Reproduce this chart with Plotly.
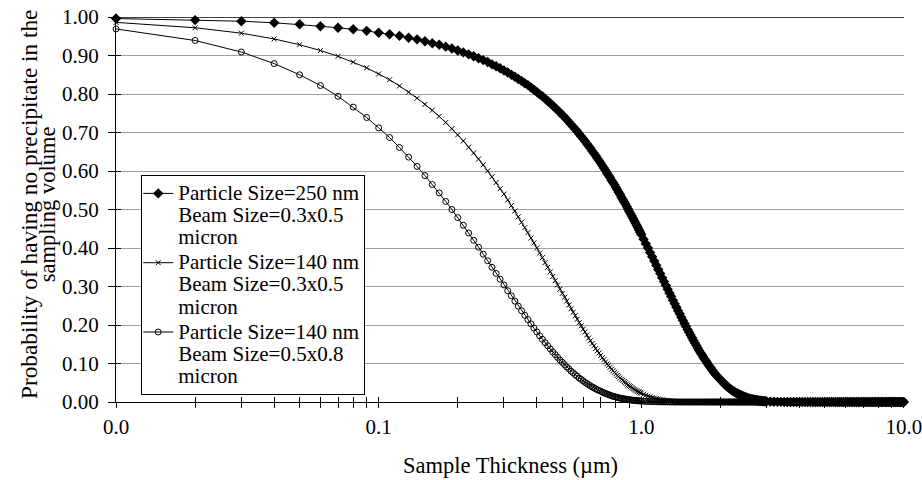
import plotly.graph_objects as go

# Sample thickness grid (micron) at which the curves are sampled
THICKNESS_UM = [
    0.01, 0.02, 0.03, 0.04, 0.05, 0.06, 0.07, 0.08, 0.09, 0.10,
    0.11, 0.12, 0.13, 0.14, 0.15, 0.16, 0.17, 0.18, 0.19, 0.20,
    0.21, 0.22, 0.23, 0.24, 0.25, 0.26, 0.27, 0.28, 0.29, 0.30,
    0.31, 0.32, 0.33, 0.34, 0.35, 0.36, 0.37, 0.38, 0.39, 0.40,
    0.41, 0.42, 0.43, 0.44, 0.45, 0.46, 0.47, 0.48, 0.49, 0.50,
    0.51, 0.52, 0.53, 0.54, 0.55, 0.56, 0.57, 0.58, 0.59, 0.60,
    0.61, 0.62, 0.63, 0.64, 0.65, 0.66, 0.67, 0.68, 0.69, 0.70,
    0.71, 0.72, 0.73, 0.74, 0.75, 0.76, 0.77, 0.78, 0.79, 0.80,
    0.81, 0.82, 0.83, 0.84, 0.85, 0.86, 0.87, 0.88, 0.89, 0.90,
    0.91, 0.92, 0.93, 0.94, 0.95, 0.96, 0.97, 0.98, 0.99, 1.00,
    1.02, 1.04, 1.06, 1.08, 1.10, 1.12, 1.14, 1.16, 1.18, 1.20,
    1.22, 1.24, 1.26, 1.28, 1.30, 1.32, 1.34, 1.36, 1.38, 1.40,
    1.42, 1.44, 1.46, 1.48, 1.50, 1.52, 1.54, 1.56, 1.58, 1.60,
    1.62, 1.64, 1.66, 1.68, 1.70, 1.72, 1.74, 1.76, 1.78, 1.80,
    1.82, 1.84, 1.86, 1.88, 1.90, 1.92, 1.94, 1.96, 1.98, 2.00,
    2.02, 2.04, 2.06, 2.08, 2.10, 2.12, 2.14, 2.16, 2.18, 2.20,
    2.22, 2.24, 2.26, 2.28, 2.30, 2.32, 2.34, 2.36, 2.38, 2.40,
    2.42, 2.44, 2.46, 2.48, 2.50, 2.52, 2.54, 2.56, 2.58, 2.60,
    2.62, 2.64, 2.66, 2.68, 2.70, 2.72, 2.74, 2.76, 2.78, 2.80,
    2.82, 2.84, 2.86, 2.88, 2.90, 2.92, 2.94, 2.96, 2.98, 3.00,
    3.1, 3.2, 3.3, 3.4, 3.5, 3.6, 3.7, 3.8, 3.9, 4.0,
    4.1, 4.2, 4.3, 4.4, 4.5, 4.6, 4.7, 4.8, 4.9, 5.0,
    5.1, 5.2, 5.3, 5.4, 5.5, 5.6, 5.7, 5.8, 5.9, 6.0,
    6.1, 6.2, 6.3, 6.4, 6.5, 6.6, 6.7, 6.8, 6.9, 7.0,
    7.1, 7.2, 7.3, 7.4, 7.5, 7.6, 7.7, 7.8, 7.9, 8.0,
    8.1, 8.2, 8.3, 8.4, 8.5, 8.6, 8.7, 8.8, 8.9, 9.0,
    9.1, 9.2, 9.3, 9.4, 9.5, 9.6, 9.7, 9.8, 9.9, 10.0,
]

# Particle Size=250 nm, Beam Size=0.3x0.5 micron
P_250_03x05 = [
    0.996, 0.992, 0.989, 0.985, 0.981, 0.976, 0.972, 0.968, 0.964, 0.959,
    0.955, 0.951, 0.946, 0.942, 0.937, 0.932, 0.928, 0.923, 0.918, 0.913,
    0.908, 0.903, 0.898, 0.893, 0.888, 0.883, 0.877, 0.872, 0.867, 0.861,
    0.856, 0.850, 0.845, 0.839, 0.834, 0.828, 0.823, 0.817, 0.811, 0.805,
    0.799, 0.794, 0.788, 0.782, 0.776, 0.770, 0.764, 0.758, 0.752, 0.746,
    0.740, 0.734, 0.727, 0.721, 0.715, 0.709, 0.703, 0.696, 0.690, 0.684,
    0.678, 0.671, 0.665, 0.659, 0.652, 0.646, 0.640, 0.633, 0.627, 0.621,
    0.614, 0.608, 0.602, 0.595, 0.589, 0.583, 0.576, 0.570, 0.564, 0.558,
    0.551, 0.545, 0.539, 0.532, 0.526, 0.520, 0.514, 0.508, 0.501, 0.495,
    0.489, 0.483, 0.477, 0.471, 0.465, 0.459, 0.453, 0.447, 0.441, 0.435,
    0.423, 0.411, 0.400, 0.388, 0.377, 0.366, 0.355, 0.344, 0.334, 0.323,
    0.313, 0.303, 0.293, 0.283, 0.274, 0.264, 0.255, 0.246, 0.237, 0.229,
    0.220, 0.212, 0.204, 0.196, 0.188, 0.181, 0.174, 0.167, 0.160, 0.153,
    0.147, 0.140, 0.134, 0.128, 0.123, 0.117, 0.112, 0.107, 0.102, 0.097,
    0.092, 0.088, 0.083, 0.079, 0.075, 0.071, 0.068, 0.064, 0.061, 0.058,
    0.055, 0.052, 0.049, 0.046, 0.043, 0.041, 0.039, 0.036, 0.034, 0.032,
    0.030, 0.028, 0.027, 0.025, 0.023, 0.022, 0.021, 0.019, 0.018, 0.017,
    0.016, 0.015, 0.014, 0.013, 0.012, 0.011, 0.010, 0.0095, 0.0088, 0.0082,
    0.0076, 0.0070, 0.0065, 0.0060, 0.0056, 0.0051, 0.0047, 0.0044, 0.0040, 0.0037,
    0.0034, 0.0031, 0.0029, 0.0026, 0.0024, 0.0022, 0.0020, 0.0019, 0.0017, 0.0016,
    0.0010, 0.0006, 0.0004, 0.0002, 0.0001, 0.0001, 0, 0, 0, 0,
    0, 0, 0, 0, 0, 0, 0, 0, 0, 0,
    0, 0, 0, 0, 0, 0, 0, 0, 0, 0,
    0, 0, 0, 0, 0, 0, 0, 0, 0, 0,
    0, 0, 0, 0, 0, 0, 0, 0, 0, 0,
    0, 0, 0, 0, 0, 0, 0, 0, 0, 0,
    0, 0, 0, 0, 0, 0, 0, 0, 0, 0,
]

# Particle Size=140 nm, Beam Size=0.3x0.5 micron
P_140_03x05 = [
    0.986, 0.972, 0.958, 0.943, 0.928, 0.913, 0.898, 0.883, 0.868, 0.852,
    0.837, 0.821, 0.805, 0.789, 0.773, 0.758, 0.742, 0.726, 0.710, 0.694,
    0.678, 0.662, 0.647, 0.631, 0.616, 0.600, 0.585, 0.570, 0.554, 0.540,
    0.525, 0.510, 0.496, 0.481, 0.467, 0.453, 0.440, 0.426, 0.413, 0.400,
    0.387, 0.375, 0.362, 0.350, 0.338, 0.326, 0.315, 0.304, 0.293, 0.282,
    0.272, 0.262, 0.252, 0.242, 0.233, 0.224, 0.215, 0.206, 0.198, 0.189,
    0.182, 0.174, 0.166, 0.159, 0.152, 0.146, 0.139, 0.133, 0.127, 0.121,
    0.115, 0.110, 0.104, 0.099, 0.095, 0.090, 0.085, 0.081, 0.077, 0.073,
    0.069, 0.066, 0.062, 0.059, 0.056, 0.053, 0.050, 0.047, 0.044, 0.042,
    0.040, 0.037, 0.035, 0.033, 0.031, 0.029, 0.027, 0.026, 0.024, 0.023,
    0.020, 0.0175, 0.0153, 0.0134, 0.0117, 0.0101, 0.0088, 0.0076, 0.0066, 0.0056,
    0.0048, 0.0042, 0.0035, 0.0030, 0.0026, 0.0022, 0.0018, 0.0016, 0.0013, 0.0011,
    0.0009, 0.0008, 0.0006, 0.0005, 0.0004, 0.0004, 0.0003, 0.0003, 0.0002, 0.0002,
    0.0001, 0.0001, 0.0001, 0.0001, 0.0001, 0, 0, 0, 0, 0,
    0, 0, 0, 0, 0, 0, 0, 0, 0, 0,
    0, 0, 0, 0, 0, 0, 0, 0, 0, 0,
    0, 0, 0, 0, 0, 0, 0, 0, 0, 0,
    0, 0, 0, 0, 0, 0, 0, 0, 0, 0,
    0, 0, 0, 0, 0, 0, 0, 0, 0, 0,
    0, 0, 0, 0, 0, 0, 0, 0, 0, 0,
    0, 0, 0, 0, 0, 0, 0, 0, 0, 0,
    0, 0, 0, 0, 0, 0, 0, 0, 0, 0,
    0, 0, 0, 0, 0, 0, 0, 0, 0, 0,
    0, 0, 0, 0, 0, 0, 0, 0, 0, 0,
    0, 0, 0, 0, 0, 0, 0, 0, 0, 0,
    0, 0, 0, 0, 0, 0, 0, 0, 0, 0,
    0, 0, 0, 0, 0, 0, 0, 0, 0, 0,
]

# Particle Size=140 nm, Beam Size=0.5x0.8 micron
P_140_05x08 = [
    0.969, 0.939, 0.909, 0.879, 0.850, 0.822, 0.794, 0.766, 0.739, 0.712,
    0.687, 0.661, 0.636, 0.612, 0.588, 0.565, 0.543, 0.521, 0.500, 0.479,
    0.459, 0.439, 0.420, 0.402, 0.384, 0.367, 0.350, 0.334, 0.319, 0.304,
    0.289, 0.276, 0.262, 0.249, 0.237, 0.225, 0.214, 0.203, 0.192, 0.182,
    0.172, 0.163, 0.154, 0.146, 0.138, 0.130, 0.123, 0.116, 0.109, 0.103,
    0.097, 0.091, 0.086, 0.080, 0.076, 0.071, 0.067, 0.062, 0.059, 0.055,
    0.051, 0.048, 0.045, 0.042, 0.039, 0.037, 0.034, 0.032, 0.030, 0.028,
    0.026, 0.024, 0.022, 0.021, 0.019, 0.018, 0.016, 0.015, 0.014, 0.013,
    0.012, 0.011, 0.010, 0.0096, 0.0088, 0.0081, 0.0075, 0.0069, 0.0064, 0.0059,
    0.0054, 0.0050, 0.0046, 0.0042, 0.0038, 0.0035, 0.0032, 0.0030, 0.0027, 0.0025,
    0.0021, 0.0017, 0.0014, 0.0012, 0.0010, 0.0008, 0.0007, 0.0006, 0.0005, 0.0004,
    0.0003, 0.0002, 0.0002, 0.0002, 0.0001, 0.0001, 0, 0, 0, 0,
    0, 0, 0, 0, 0, 0, 0, 0, 0, 0,
    0, 0, 0, 0, 0, 0, 0, 0, 0, 0,
    0, 0, 0, 0, 0, 0, 0, 0, 0, 0,
    0, 0, 0, 0, 0, 0, 0, 0, 0, 0,
    0, 0, 0, 0, 0, 0, 0, 0, 0, 0,
    0, 0, 0, 0, 0, 0, 0, 0, 0, 0,
    0, 0, 0, 0, 0, 0, 0, 0, 0, 0,
    0, 0, 0, 0, 0, 0, 0, 0, 0, 0,
    0, 0, 0, 0, 0, 0, 0, 0, 0, 0,
    0, 0, 0, 0, 0, 0, 0, 0, 0, 0,
    0, 0, 0, 0, 0, 0, 0, 0, 0, 0,
    0, 0, 0, 0, 0, 0, 0, 0, 0, 0,
    0, 0, 0, 0, 0, 0, 0, 0, 0, 0,
    0, 0, 0, 0, 0, 0, 0, 0, 0, 0,
    0, 0, 0, 0, 0, 0, 0, 0, 0, 0,
]

# legend text, one list entry per line
SERIES_LABEL_LINES = [
    ["Particle Size=250 nm", "Beam Size=0.3x0.5", "micron"],
    ["Particle Size=140 nm", "Beam Size=0.3x0.5", "micron"],
    ["Particle Size=140 nm", "Beam Size=0.5x0.8", "micron"],
]

X_TICK_VALUES = [0.01, 0.02, 0.03, 0.04, 0.05, 0.06, 0.07, 0.08, 0.09,
                 0.1, 0.2, 0.3, 0.4, 0.5, 0.6, 0.7, 0.8, 0.9,
                 1, 2, 3, 4, 5, 6, 7, 8, 9, 10]
X_TICK_TEXT = ["0.0", "", "", "", "", "", "", "", "",
               "0.1", "", "", "", "", "", "", "", "",
               "1.0", "", "", "", "", "", "", "", "",
               "10.0"]
Y_TICK_VALUES = [0.0, 0.1, 0.2, 0.3, 0.4, 0.5, 0.6, 0.7, 0.8, 0.9, 1.0]
Y_TICK_TEXT = ["0.00", "0.10", "0.20", "0.30", "0.40", "0.50",
               "0.60", "0.70", "0.80", "0.90", "1.00"]

X_TITLE = "Sample Thickness (\u00b5m)"
Y_TITLE_LINES = ["Probability of having no precipitate in the", "sampling volume"]

assert len(THICKNESS_UM) == len(P_250_03x05) == len(P_140_03x05) == len(P_140_05x08)

FONT = "Liberation Serif, Times New Roman, serif"
BLACK = "#000000"
LEGEND_TEXT_PX = 21


def legend_label(lines):
    return "<br>".join(
        '<span style="font-size:%dpx">%s</span>' % (LEGEND_TEXT_PX, s) for s in lines)


fig = go.Figure()

marker_styles = [
    dict(symbol="diamond", size=8, color=BLACK, line=dict(width=0)),
    dict(symbol="x-thin", size=5, color=BLACK, line=dict(width=1, color=BLACK)),
    dict(symbol="circle-open", size=6, color=BLACK, line=dict(width=1, color=BLACK)),
]
for lines, vals, mk in zip(SERIES_LABEL_LINES,
                           [P_250_03x05, P_140_03x05, P_140_05x08], marker_styles):
    fig.add_trace(go.Scatter(
        x=THICKNESS_UM, y=vals, name=legend_label(lines), mode="lines+markers",
        line=dict(color=BLACK, width=1), marker=mk, cliponaxis=False,
    ))

# helper trace for the second (overlaid) axes that give crossing tick marks
fig.add_trace(go.Scatter(x=[0.01], y=[0], xaxis="x2", yaxis="y2", mode="markers",
                         marker=dict(opacity=0), showlegend=False, hoverinfo="skip"))

axis_font = dict(family=FONT, size=21, color=BLACK)
title_font = dict(family=FONT, size=22.5, color=BLACK)
XR = [-2.0002, 1.0002]

fig.update_layout(
    width=922, height=480,
    margin=dict(l=115.5, r=17.5, t=17, b=78, pad=0, autoexpand=False),
    paper_bgcolor="white", plot_bgcolor="white",
    font=axis_font,
    showlegend=True,
    legend=dict(
        x=0.032, y=0.590, xanchor="left", yanchor="top",
        bgcolor="white", bordercolor=BLACK, borderwidth=1,
        font=dict(family=FONT, size=17, color=BLACK),
        valign="top", tracegroupgap=0, itemwidth=30, indentation=-4,
    ),
    xaxis=dict(
        type="log", range=XR, showgrid=False, zeroline=False, automargin=False,
        showline=True, linecolor=BLACK, linewidth=1,
        ticks="outside", ticklen=5, tickcolor=BLACK, tickwidth=1,
        tickmode="array", tickvals=X_TICK_VALUES, ticktext=X_TICK_TEXT,
        tickfont=axis_font, ticklabelstandoff=1, ticklabeloverflow="allow",
    ),
    yaxis=dict(
        range=[0, 1], showgrid=True, gridcolor="#a0a0a0", gridwidth=1,
        zeroline=False, automargin=False, showline=True, linecolor=BLACK, linewidth=1,
        ticks="outside", ticklen=7, tickcolor=BLACK, tickwidth=1,
        tickmode="array", tickvals=Y_TICK_VALUES, ticktext=Y_TICK_TEXT,
        tickfont=axis_font, ticklabelstandoff=5,
    ),
    xaxis2=dict(
        type="log", range=XR, overlaying="x", anchor="y2", side="bottom",
        showgrid=False, zeroline=False, showline=False, automargin=False,
        ticks="inside", ticklen=5, tickcolor=BLACK, tickwidth=1,
        tickmode="array", tickvals=X_TICK_VALUES, showticklabels=False,
    ),
    yaxis2=dict(
        range=[0, 1], overlaying="y", anchor="x2", side="left",
        showgrid=False, zeroline=False, showline=False, automargin=False,
        ticks="inside", ticklen=5, tickcolor=BLACK, tickwidth=1,
        tickmode="array", tickvals=Y_TICK_VALUES, showticklabels=False,
    ),
    shapes=[dict(type="line", xref="paper", yref="y", x0=0, x1=1, y0=1, y1=1,
                 line=dict(color="#404040", width=2), layer="below")],
    annotations=[
        dict(text=X_TITLE, xref="paper", yref="paper", x=0.5, y=-0.166,
             xanchor="center", yanchor="middle", showarrow=False, font=title_font),
        dict(text=Y_TITLE_LINES[0], xref="paper", yref="paper", x=-0.1105, y=0.514,
             xanchor="center", yanchor="middle", textangle=-90, showarrow=False,
             font=dict(family=FONT, size=23.3, color=BLACK)),
        dict(text=Y_TITLE_LINES[1], xref="paper", yref="paper", x=-0.0875, y=0.514,
             xanchor="center", yanchor="middle", textangle=-90, showarrow=False,
             font=title_font),
    ],
)

fig.write_html("out.html")
